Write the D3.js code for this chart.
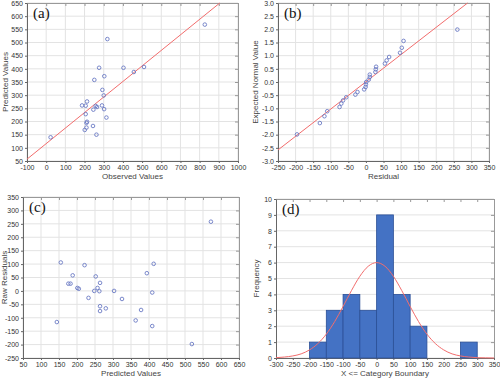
<!DOCTYPE html>
<html>
<head>
<meta charset="utf-8">
<script src="https://d3js.org/d3.v7.min.js"></script>
<style>
  body { margin: 0; background: #fff; }
</style>
</head>
<body>
<div id="chart"></div>
<script>
// (a) observed vs predicted
var observedA  = [23, 827, 319, 276, 403, 510, 457, 251, 303, 293, 300, 187, 206, 213, 291, 258, 265, 246, 302, 206, 314, 213, 210, 244, 210, 201, 262];
var predictedA = [140, 568, 513, 404, 404, 407, 388, 358, 372, 320, 299, 261, 260, 276, 261, 259, 255, 245, 247, 228, 215, 199, 195, 183, 177, 168, 150];
var lineA = [[-100, 57], [905, 650]];

// (b) residual vs expected normal value
var residualB = [-196, -131, -118, -110, -75, -70, -65, -56, -30, -24, -5, -1, 0, 1, 8, 11, 11, 27, 28, 29, 54, 59, 66, 97, 102, 107, 260];
var normalB   = [-1.99, -1.56, -1.30, -1.11, -0.95, -0.82, -0.70, -0.58, -0.48, -0.38, -0.28, -0.19, -0.09, 0.0, 0.09, 0.19, 0.28, 0.38, 0.48, 0.58, 0.70, 0.82, 0.95, 1.11, 1.30, 1.56, 1.99];
var lineB = [[-250, -2.58], [289, 3.0]];

// (c) predicted vs raw residuals
var predictedC = [572, 519, 155, 144, 221, 188, 176, 182, 201, 205, 232, 252, 257, 248, 262, 264, 264, 264, 280, 303, 325, 363, 378, 394, 413, 409, 409];
var residualC  = [258, -198, 106, -116, 96, 58, 27, 27, 11, 8, -26, 54, 11, 0, -1, 30, -57, -75, -65, 0, -30, -110, -71, 66, 101, -6, -131];

// (d) histogram of residuals
var binStart = [-200, -150, -100, -50, 0, 50, 100, 150, 200, 250];
var binCount = [1, 3, 4, 3, 9, 4, 2, 0, 0, 1];
var curveX = [-300, -275, -250, -225, -200, -175, -150, -125, -100, -75, -50, -25, 0, 25, 50, 75, 100, 125, 150, 175, 200, 225, 250, 275, 300, 325, 350];
var curveY = [0.02, 0.06, 0.13, 0.26, 0.51, 0.91, 1.5, 2.29, 3.24, 4.24, 5.14, 5.77, 6.0, 5.77, 5.14, 4.24, 3.24, 2.29, 1.5, 0.91, 0.51, 0.26, 0.13, 0.06, 0.02, 0.01, 0.0];

var svg = d3.select("#chart").append("svg")
  .attr("width", 500).attr("height", 379);

var markColor = "#6b7bc4", lineColor = "#f26d6d", gridColor = "#e3e3e3";
var sans = "'Liberation Sans', Arial, sans-serif";

// plain hyphen minus like the original
function fmtInt(d) { return String(d); }
function fmt1(d) { return d.toFixed(1); }

function panel(o) {
  var x = d3.scaleLinear().domain(o.xd).range([o.l, o.r]);
  var y = d3.scaleLinear().domain(o.yd).range([o.b, o.t]);
  var g = svg.append("g");
  var xt = d3.range(o.xd[0], o.xd[1] + o.xs / 2, o.xs);
  var yt = d3.range(o.yd[0], o.yd[1] + o.ys / 2, o.ys);

  // grid
  if (o.vgrid !== false) {
    g.selectAll(".vg").data(xt).enter().append("line")
      .attr("x1", d => x(d)).attr("x2", d => x(d))
      .attr("y1", o.t).attr("y2", o.b)
      .attr("stroke", gridColor).attr("stroke-width", 1);
  }
  g.selectAll(".hg").data(yt).enter().append("line")
    .attr("x1", o.l).attr("x2", o.r)
    .attr("y1", d => y(d)).attr("y2", d => y(d))
    .attr("stroke", gridColor).attr("stroke-width", 1);

  // frame top/right with inward ticks
  g.append("g").attr("transform", "translate(0," + o.t + ")")
    .call(d3.axisBottom(x).tickValues(xt).tickSize(3).tickFormat(""))
    .call(a => a.selectAll("path,line").attr("stroke", "#999"));
  g.append("g").attr("transform", "translate(" + o.r + ",0)")
    .call(d3.axisLeft(y).tickValues(yt).tickSize(3).tickFormat(""))
    .call(a => a.selectAll("path,line").attr("stroke", "#999"));

  // bottom/left axes
  var ax = g.append("g").attr("transform", "translate(0," + o.b + ")")
    .call(d3.axisBottom(x).tickValues(xt).tickSize(2).tickSizeOuter(0).tickPadding(2.5).tickFormat(o.xf || fmtInt));
  var ay = g.append("g").attr("transform", "translate(" + o.l + ",0)")
    .call(d3.axisLeft(y).tickValues(yt).tickSize(2).tickSizeOuter(0).tickPadding(2).tickFormat(o.yf || fmtInt));
  [ax, ay].forEach(a => {
    a.attr("font-family", sans);
    a.selectAll("path,line").attr("stroke", "#666");
    a.selectAll("text").attr("font-size", o.fs || 7.5).attr("fill", "#333");
  });

  // titles
  g.append("text").attr("x", (o.l + o.r) / 2).attr("y", o.b + 18)
    .attr("font-family", sans)
    .attr("text-anchor", "middle").attr("font-size", 8).attr("fill", "#444").text(o.xt);
  g.append("text").attr("transform", "translate(" + o.ytx + "," + ((o.t + o.b) / 2) + ") rotate(-90)")
    .attr("font-family", sans)
    .attr("text-anchor", "middle").attr("font-size", 8).attr("fill", "#444").text(o.ytl);
  svg.append("text").attr("x", o.l + 6).attr("y", o.t + 15)
    .attr("font-family", "'Liberation Serif', 'Times New Roman', serif")
    .attr("font-size", 15).attr("fill", "#111").text(o.lab);

  return {x: x, y: y, g: g};
}

function dots(p, xs, ys) {
  p.g.selectAll(".pt").data(xs).enter().append("circle")
    .attr("cx", (d, i) => p.x(d)).attr("cy", (d, i) => p.y(ys[i]))
    .attr("r", 1.8).attr("fill", "none").attr("stroke", markColor).attr("stroke-width", 0.9);
}

function refLine(p, pts) {
  p.g.append("path").datum(pts)
    .attr("d", d3.line().x(d => p.x(d[0])).y(d => p.y(d[1])))
    .attr("fill", "none").attr("stroke", lineColor).attr("stroke-width", 1);
}

// (a)
var pa = panel({l: 27, r: 238, t: 3, b: 161, xd: [-100, 1000], xs: 100, yd: [50, 650], ys: 50,
  fs: 7, xt: "Observed Values", ytl: "Predicted Values", ytx: 8, lab: "(a)"});
refLine(pa, lineA);
dots(pa, observedA, predictedA);

// (b)
var pb = panel({l: 278, r: 489, t: 3, b: 161, xd: [-250, 350], xs: 50, yd: [-3, 3], ys: 0.5,
  yf: fmt1, fs: 7, xt: "Residual", ytl: "Expected Normal Value", ytx: 258, lab: "(b)"});
refLine(pb, lineB);
dots(pb, residualB, normalB);

// (c)
var pc = panel({l: 23, r: 239, t: 197, b: 358, xd: [50, 650], xs: 50, yd: [-250, 350], ys: 50,
  fs: 7, xt: "Predicted Values", ytl: "Raw Residuals", ytx: 7, lab: "(c)"});
dots(pc, predictedC, residualC);

// (d)
var pd = panel({l: 276, r: 494, t: 199, b: 358, xd: [-300, 350], xs: 50, yd: [0, 10], ys: 1, vgrid: false,
  fs: 7, xt: "X <= Category Boundary", ytl: "Frequency", ytx: 259, lab: "(d)"});
pd.g.selectAll(".bar").data(binStart).enter().append("rect")
  .attr("x", d => pd.x(d)).attr("width", d => pd.x(d + 50) - pd.x(d))
  .attr("y", (d, i) => pd.y(binCount[i])).attr("height", (d, i) => pd.y(0) - pd.y(binCount[i]))
  .attr("fill", "#4472c4").attr("stroke", "#2b4f96").attr("stroke-width", 0.8)
  .style("display", (d, i) => binCount[i] ? null : "none");
pd.g.append("path").datum(curveX)
  .attr("d", d3.line().x(d => pd.x(d)).y((d, i) => pd.y(curveY[i])).curve(d3.curveMonotoneX))
  .attr("fill", "none").attr("stroke", lineColor).attr("stroke-width", 1);
</script>
</body>
</html>
